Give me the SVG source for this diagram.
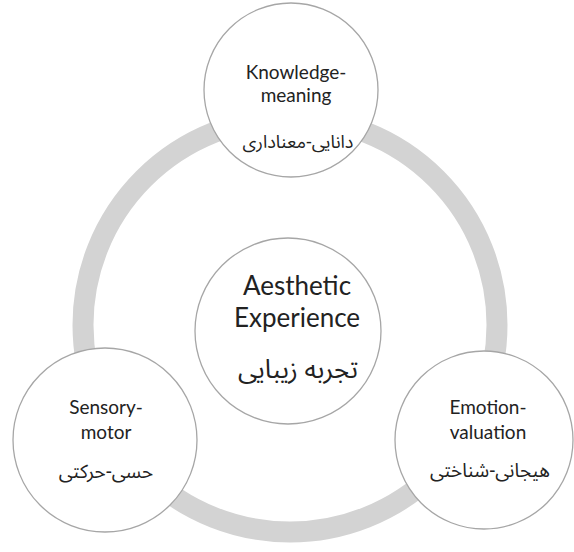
<svg xmlns="http://www.w3.org/2000/svg" width="574" height="552" viewBox="0 0 574 552">
<style>
.node{fill:#fff;stroke:#a6a6a6;stroke-width:1.3}
.en{font-family:Lato,"Liberation Sans",sans-serif;fill:#222;text-anchor:middle}
.fa{font-family:"Noto Sans Arabic","DejaVu Sans",sans-serif;fill:#222;text-anchor:middle}
</style>
<rect width="574" height="552" fill="#fff"/>
<g id="connectors">
<circle cx="290" cy="325" r="207" fill="none" stroke="#d3d3d3" stroke-width="21"/>
</g>
<g id="knowledge">
<circle class="node" cx="291" cy="90" r="87"/>
<text class="en" font-size="19"><tspan x="296" y="79">Knowledge-</tspan><tspan x="296" y="102">meaning</tspan></text>
<text class="fa" x="298" y="148" font-size="18" direction="rtl">دانایی-معناداری</text>
</g>
<g id="aesthetic">
<circle class="node" cx="288" cy="331" r="93"/>
<text class="en" font-size="26"><tspan x="297" y="295">Aesthetic</tspan><tspan x="297" y="327">Experience</tspan></text>
<text class="fa" x="298" y="378" font-size="26" direction="rtl">تجربه زیبایی</text>
</g>
<g id="sensory">
<circle class="node" cx="105" cy="440" r="92"/>
<text class="en" font-size="19"><tspan x="106" y="414">Sensory-</tspan><tspan x="106" y="439">motor</tspan></text>
<text class="fa" x="106" y="478" font-size="19" direction="rtl">حسی-حرکتی</text>
</g>
<g id="emotion">
<circle class="node" cx="484" cy="440" r="89"/>
<text class="en" font-size="19"><tspan x="488" y="414">Emotion-</tspan><tspan x="488" y="439">valuation</tspan></text>
<text class="fa" x="490" y="477" font-size="19" direction="rtl">هیجانی-شناختی</text>
</g>
</svg>
